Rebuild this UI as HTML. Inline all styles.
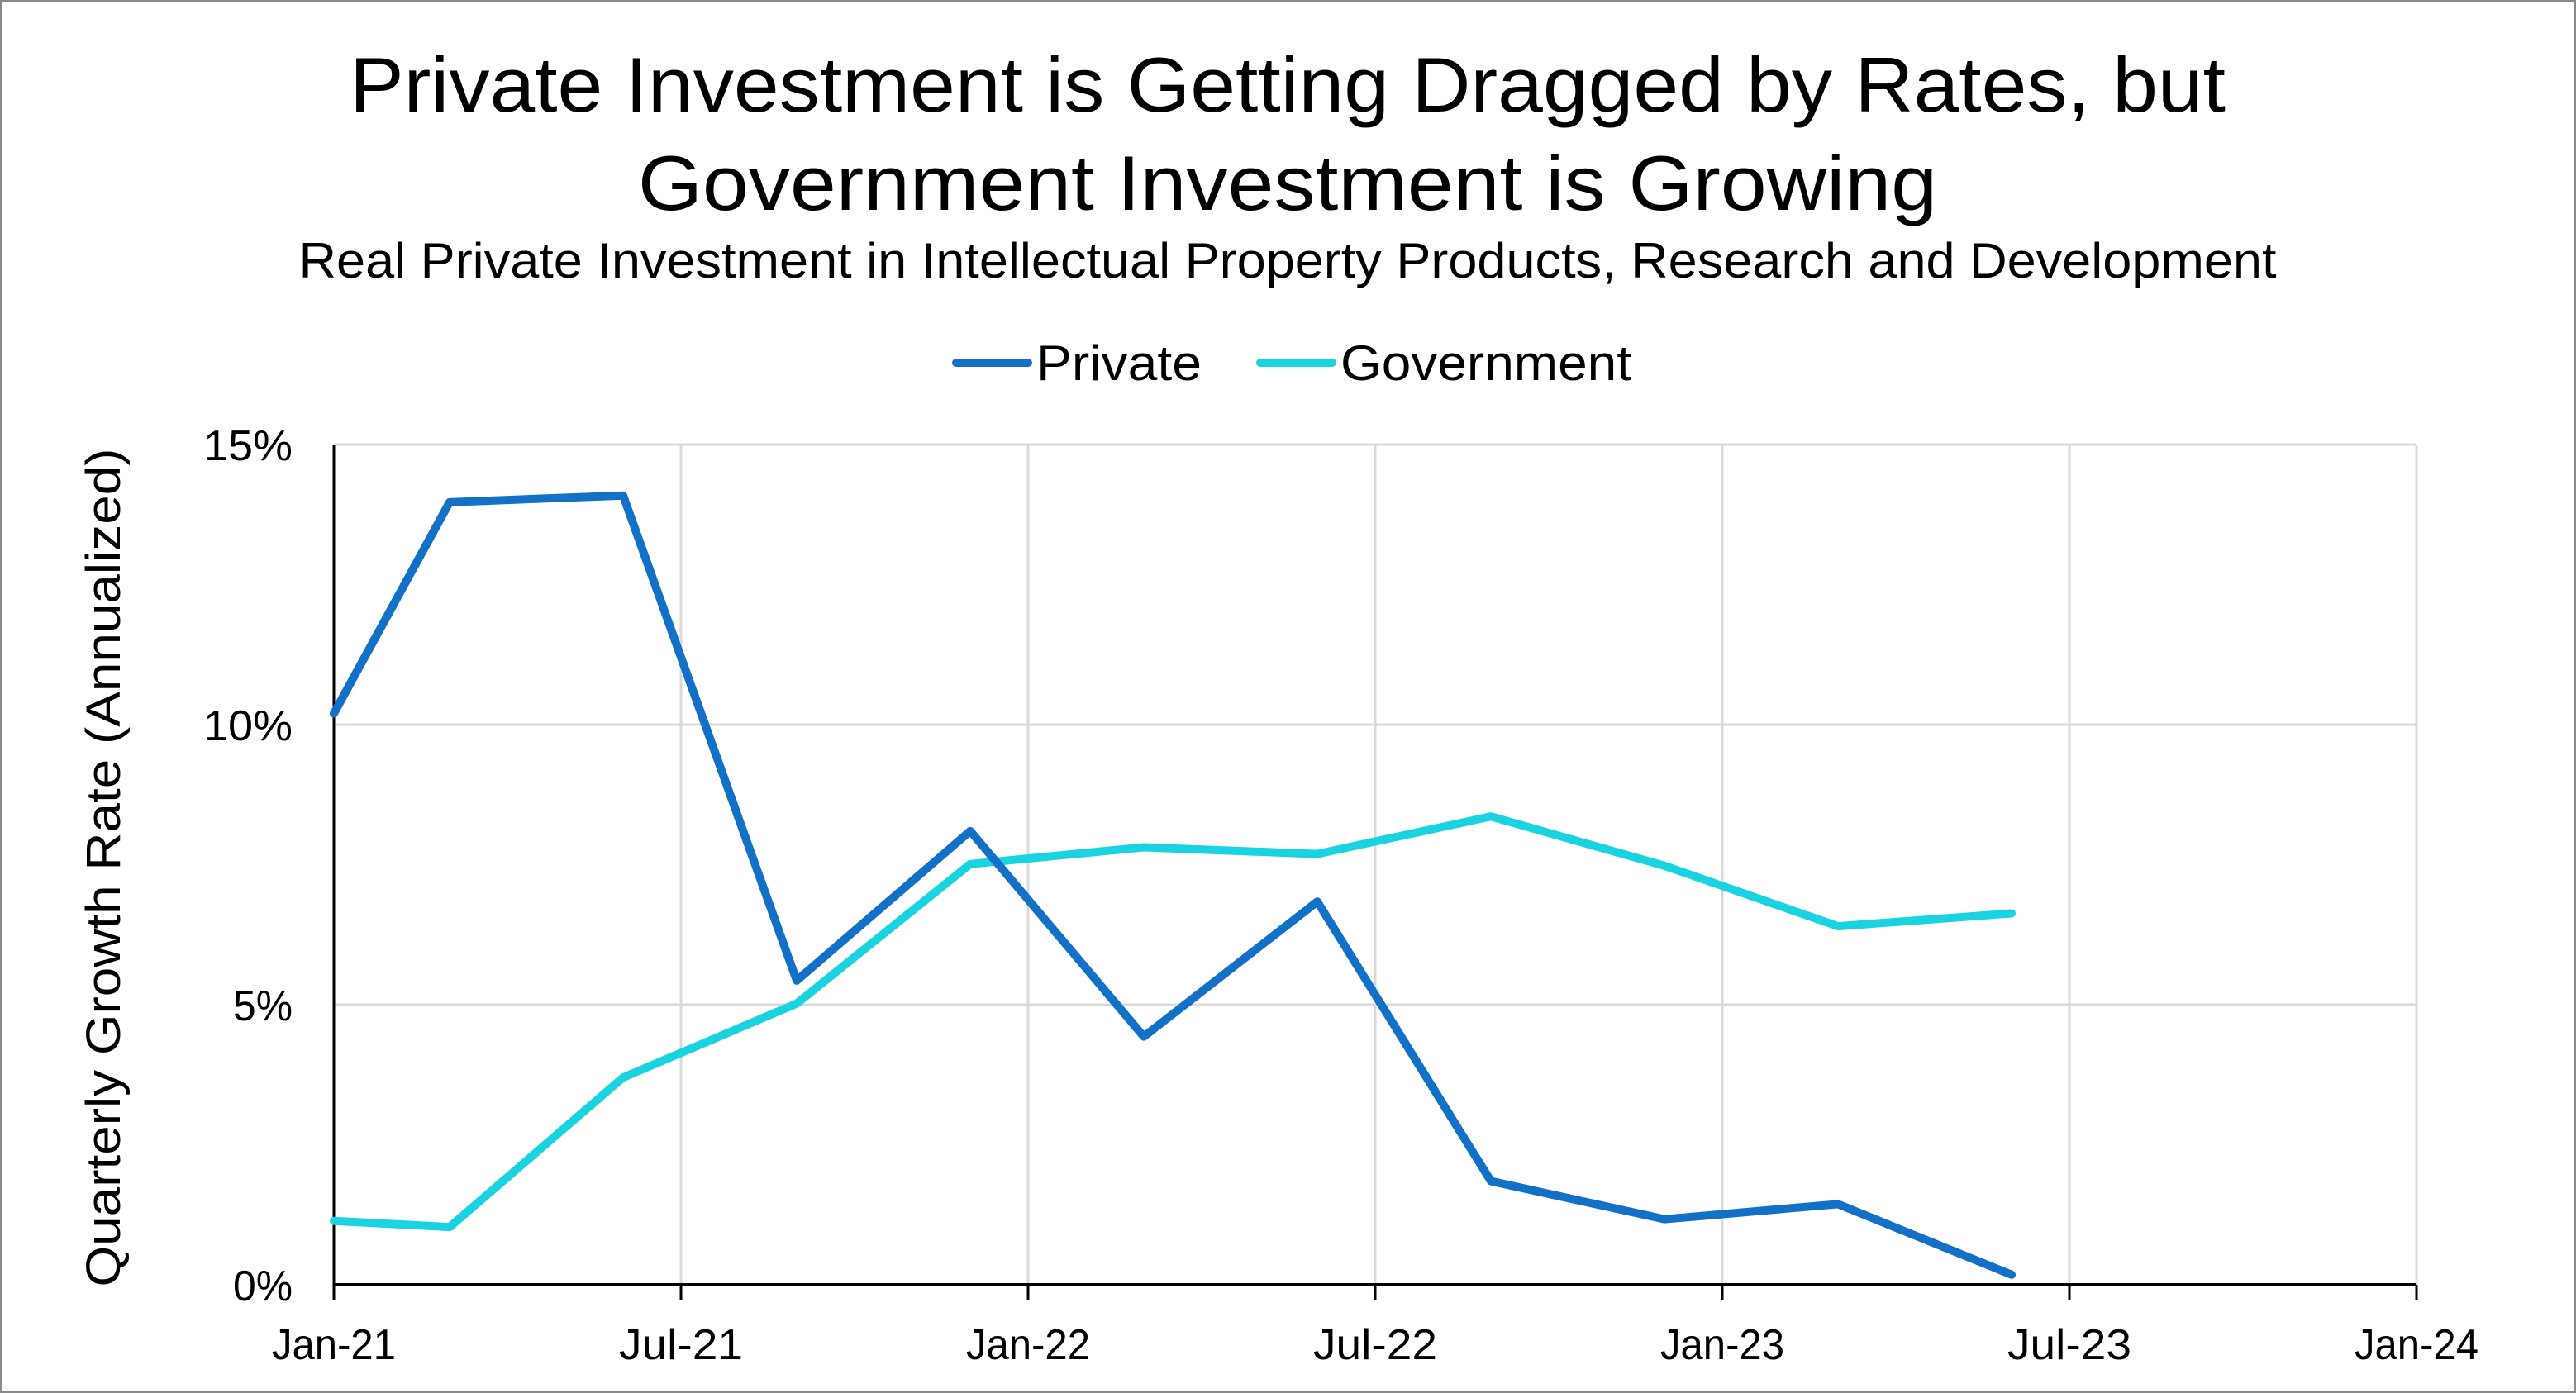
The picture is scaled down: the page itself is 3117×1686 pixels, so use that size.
<!DOCTYPE html>
<html><head><meta charset="utf-8"><style>
html,body{margin:0;padding:0;background:#fff}
svg{display:block;font-family:"Liberation Sans",sans-serif}
</style></head><body>
<svg id="chart" width="3117" height="1686" viewBox="0 0 3117 1686">
<rect x="1" y="1" width="3115" height="1684" fill="#fff" stroke="#8a8a8a" stroke-width="3"/>
<text x="1558" y="135" text-anchor="middle" font-size="94" fill="#000" textLength="2270" lengthAdjust="spacingAndGlyphs">Private Investment is Getting Dragged by Rates, but</text>
<text x="1558" y="254" text-anchor="middle" font-size="94" fill="#000" textLength="1572" lengthAdjust="spacingAndGlyphs">Government Investment is Growing</text>
<text x="1558" y="336" text-anchor="middle" font-size="60" fill="#000" textLength="2393" lengthAdjust="spacingAndGlyphs">Real Private Investment in Intellectual Property Products, Research and Development</text>
<g>
<g>
<line x1="1157" y1="439" x2="1244" y2="439" stroke="#1270c6" stroke-width="10" stroke-linecap="round"/>
<text x="1254" y="460" font-size="60" textLength="200" lengthAdjust="spacingAndGlyphs">Private</text>
</g>
<g>
<line x1="1525" y1="439" x2="1612" y2="439" stroke="#19d3e0" stroke-width="10" stroke-linecap="round"/>
<text x="1622" y="460" font-size="60" textLength="352" lengthAdjust="spacingAndGlyphs">Government</text>
</g>
</g>
<text transform="translate(145,1050) rotate(-90)" text-anchor="middle" font-size="58" textLength="1015" lengthAdjust="spacingAndGlyphs">Quarterly Growth Rate (Annualized)</text>
<g id="grid"></g><g id="axes"></g><g id="series"></g>
</svg>
<script>
const xMonths = [0, 2, 5, 8, 11, 14, 17, 20, 23, 26, 29];
const privateVals = [10.2, 13.97, 14.09, 5.43, 8.1, 4.43, 6.84, 1.85, 1.17, 1.44, 0.18];
const governmentVals = [1.14, 1.03, 3.7, 5.02, 7.51, 7.81, 7.69, 8.36, 7.48, 6.4, 6.63];
const yTicks = [0, 5, 10, 15];
const yTickLabels = ["0%", "5%", "10%", "15%"];
const xTicks = [0, 6, 12, 18, 24, 30, 36];
const xTickLabels = ["Jan-21", "Jul-21", "Jan-22", "Jul-22", "Jan-23", "Jul-23", "Jan-24"];

const L = 404, R = 2924, T = 538, B = 1555;
const xs = m => L + (R - L) * m / 36;
const ys = v => B - (B - T) * v / 15;
const NS = "http://www.w3.org/2000/svg";
function mk(tag, attrs, parent) {
  const e = document.createElementNS(NS, tag);
  for (const k in attrs) e.setAttribute(k, attrs[k]);
  parent.appendChild(e); return e;
}
const grid = document.getElementById('grid'), axes = document.getElementById('axes'), series = document.getElementById('series');
yTicks.forEach((v, i) => {
  if (v > 0) {
    const g = mk('line', {x1: L, x2: R, y1: ys(v), y2: ys(v), stroke: '#d9d9d9', 'stroke-width': 3}, grid);
    
    
  }
  const lbl = yTickLabels[i];
  const t = mk('text', {x: 354, y: ys(v) + 19, 'text-anchor': 'end', 'font-size': 52, textLength: lbl.length * 36, lengthAdjust: 'spacingAndGlyphs'}, axes);
  t.textContent = lbl;
  
  
});
xTicks.forEach((m, i) => {
  if (m > 0) {
    const g = mk('line', {x1: xs(m), x2: xs(m), y1: T, y2: B, stroke: '#d9d9d9', 'stroke-width': 3}, grid);
    
    
  }
  const tk = mk('line', {x1: xs(m), x2: xs(m), y1: B, y2: B + 18, stroke: '#000', 'stroke-width': 3}, axes);
  
  
  const t = mk('text', {x: xs(m), y: 1645, 'text-anchor': 'middle', 'font-size': 52, textLength: 150, lengthAdjust: 'spacingAndGlyphs'}, axes);
  t.textContent = xTickLabels[i];
  
  
});
const ya = mk('line', {x1: L, x2: L, y1: T, y2: B, stroke: '#000', 'stroke-width': 3}, axes);


const xa = mk('line', {x1: L, x2: R, y1: B, y2: B, stroke: '#000', 'stroke-width': 4}, axes);


function line(vals, color, name) {
  const p = mk('polyline', {points: vals.map((v, i) => xs(xMonths[i]) + ',' + ys(v)).join(' '), fill: 'none', stroke: color, 'stroke-width': 10, 'stroke-linejoin': 'round', 'stroke-linecap': 'round'}, series);
  
  
}
line(governmentVals, '#19d3e0', 'government-line');
line(privateVals, '#1270c6', 'private-line');
</script>
</body></html>
